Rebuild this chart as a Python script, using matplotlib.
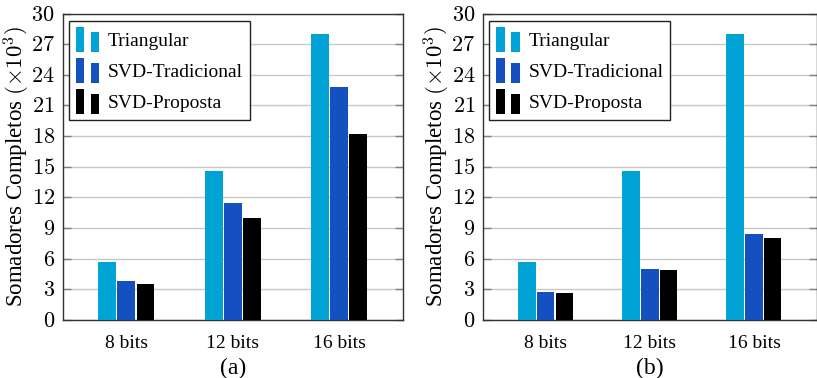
import matplotlib
matplotlib.use("Agg")
import matplotlib.pyplot as plt
import numpy as np
from matplotlib.legend_handler import HandlerBase
from matplotlib.patches import Rectangle
from matplotlib.ticker import FixedLocator, FuncFormatter

plt.rcParams['font.family'] = ['Liberation Serif', 'DejaVu Serif']
plt.rcParams['mathtext.fontset'] = 'cm'

categories = ["8 bits", "12 bits", "16 bits"]
series_names = ["Triangular", "SVD-Tradicional", "SVD-Proposta"]

# panel (a)
tri_a = [5.7, 14.6, 28.0]
trad_a = [3.8, 11.5, 22.8]
prop_a = [3.5, 10.0, 18.2]

# panel (b)
tri_b = [5.7, 14.6, 28.0]
trad_b = [2.75, 5.0, 8.4]
prop_b = [2.6, 4.9, 8.0]

y_ticks = list(range(0, 31, 3))
panel_labels = ["(a)", "(b)"]

colors = ["#00A3D4", "#1450BF", "#000000"]


class TwoBarHandler(HandlerBase):
    """Legend key made of two small bars, the left one taller."""
    def create_artists(self, legend, orig_handle, xdescent, ydescent,
                       width, height, fontsize, trans):
        color = orig_handle.get_facecolor()
        bw = width * 0.36
        r1 = Rectangle((-xdescent, -ydescent), bw, height,
                       facecolor=color, edgecolor='none', transform=trans)
        r2 = Rectangle((-xdescent + width - bw, -ydescent), bw, height * 0.79,
                       facecolor=color, edgecolor='none', transform=trans)
        return [r1, r2]


fig = plt.figure(figsize=(8.17, 3.78), dpi=100)
W, H = 817.0, 378.0
ax_a = fig.add_axes([62.5 / W, (H - 320) / H, (403 - 62.5) / W, 306.5 / H])
ax_b = fig.add_axes([483 / W, (H - 320) / H, (816.5 - 483) / W, 306.5 / H])

x = np.arange(len(categories))
bw = 0.168
step = 0.18

for ax, data, plab in [(ax_a, [tri_a, trad_a, prop_a], panel_labels[0]),
                       (ax_b, [tri_b, trad_b, prop_b], panel_labels[1])]:
    handles = []
    for i, (vals, c, name) in enumerate(zip(data, colors, series_names)):
        b = ax.bar(x + (i - 1) * step, vals, width=bw, color=c,
                   edgecolor='none', label=name, zorder=3)
        handles.append(b.patches[0])
    ax.set_xlim(-0.6, 2.6)
    ax.set_ylim(0, 30)
    ax.yaxis.set_major_locator(FixedLocator(y_ticks))
    ax.yaxis.set_major_formatter(FuncFormatter(lambda v, p: r"$%d$" % v))
    ax.set_xticks(x)
    ax.set_xticklabels(categories, fontsize=14)
    ax.tick_params(axis='x', length=0, pad=11)
    ax.tick_params(axis='y', direction='in', length=6, width=1.0,
                   color='#808080', left=True, right=True, labelsize=16, pad=5.5)
    ax.grid(axis='y', color='#c8c8c8', linewidth=1.0, zorder=0)
    ax.set_axisbelow(True)
    for s in ax.spines.values():
        s.set_color('#333333')
        s.set_linewidth(1.0)
    ax.set_ylabel(r"Somadores Completos $(\times 10^3)$", fontsize=16.5)
    width_px = ax.get_position().width * W
    ax.yaxis.set_label_coords(-30.5 / width_px, 0.5)
    ax.set_xlabel(plab, fontsize=17, labelpad=4)
    leg = ax.legend(handles=handles, labels=series_names,
                    handler_map={Rectangle: TwoBarHandler()},
                    loc='upper left',
                    bbox_to_anchor=(6.5 / width_px, 1 - 7.0 / 306.5),
                    borderaxespad=0, fontsize=14, frameon=True,
                    fancybox=False, framealpha=1, edgecolor='#222222',
                    handlelength=1.2, handleheight=1.55, handletextpad=0.45,
                    labelspacing=0.34, borderpad=0.35)
    leg.get_frame().set_linewidth(1.0)
    leg.set_zorder(5)

fig.savefig("out.png", dpi=100)
